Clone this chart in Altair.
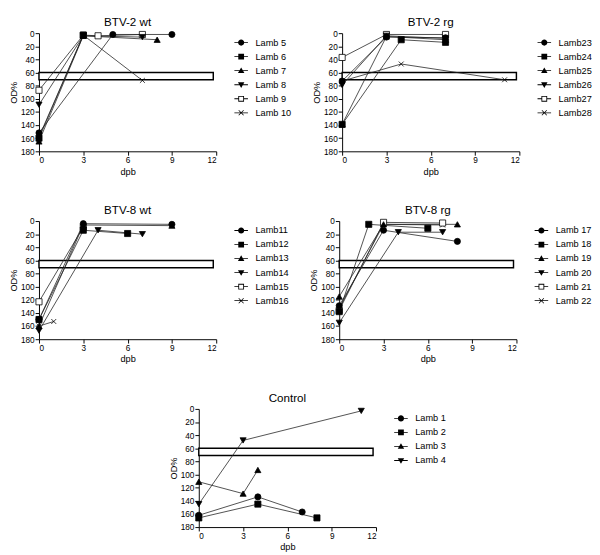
import altair as alt
import pandas as pd

FONT = "Liberation Sans"

X_TICKS = [0, 3, 6, 9, 12]
Y_TICKS = [0, 20, 40, 60, 80, 100, 120, 140, 160, 180]
BOX_X = [0, 11.8]
BOX_Y = [60, 71]

# BTV-2 wt
wt2_lambs = ["Lamb 5", "Lamb 6", "Lamb 7", "Lamb 8", "Lamb 9", "Lamb 10"]
wt2_days = [[0, 5, 9], [0, 3], [0, 3, 8], [0, 3, 7], [0, 3, 4, 7], [0, 3, 7]]
wt2_od = [[152, 2, 2], [160, 3], [165, 4, 10], [109, 4, 6], [87, 3, 4, 2], [158, 3, 72]]

# BTV-2 rg
rg2_lambs = ["Lamb23", "Lamb24", "Lamb25", "Lamb26", "Lamb27", "Lamb28"]
rg2_days = [[0, 3, 7], [0, 4, 7], [0, 3, 7], [0, 3, 7], [0, 3, 7], [0, 4, 11]]
rg2_od = [[73, 6, 7], [139, 10, 14], [139, 5, 10], [79, 4, 8], [37, 2, 2], [73, 47, 71]]

# BTV-8 wt
wt8_lambs = ["Lamb11", "Lamb12", "Lamb13", "Lamb14", "Lamb15", "Lamb16"]
wt8_days = [[0, 3, 9], [0, 3, 6], [0, 3, 9], [0, 4, 7], [0, 3], [0, 1]]
wt8_od = [[150, 4, 5], [150, 14, 19], [160, 6, 7], [167, 14, 20], [123, 9], [160, 153]]

# BTV-8 rg
rg8_lambs = ["Lamb 17", "Lamb 18", "Lamb 19", "Lamb 20", "Lamb 21", "Lamb 22"]
rg8_days = [[0, 3, 8], [0, 2, 6], [0, 3, 8], [0, 4, 7], [0, 3, 7], [0, 3, 7]]
rg8_od = [[129, 14, 31], [138, 5, 11], [115, 5, 5], [155, 17, 17], [136, 2, 3], [133, 5, 6]]

# Control
ctl_lambs = ["Lamb 1", "Lamb 2", "Lamb 3", "Lamb 4"]
ctl_days = [[0, 4, 7], [0, 4, 8], [0, 3, 4], [0, 3, 11]]
ctl_od = [[162, 134, 157], [166, 145, 166], [111, 129, 93], [145, 48, 3]]

X_PATH = "M-0.8,-0.8L0.8,0.8M-0.8,0.8L0.8,-0.8"
MARKERS = ["circle", "square", "triangle-up", "triangle-down", "square", X_PATH]
FILLS = ["black", "black", "black", "black", "white", "black"]

# legend symbols: fill-only paths (line stub + marker), all drawn clockwise
STUB = "M-2,-0.12H2V0.12H-2Z"
LEG_PATHS = [
    STUB + "M0.9,0A0.9,0.9,0,1,1,-0.9,0A0.9,0.9,0,1,1,0.9,0Z",
    STUB + "M-0.85,-0.85H0.85V0.85H-0.85Z",
    STUB + "M0,-0.95L0.95,0.7H-0.95Z",
    STUB + "M0,0.95L-0.95,-0.7H0.95Z",
    "M-2,-0.12H-0.85V0.12H-2ZM0.85,-0.12H2V0.12H0.85Z"
    "M-0.85,-0.85H0.85V0.85H-0.85ZM-0.6,-0.6V0.6H0.6V-0.6Z",
    STUB + "M-0.65,-0.8L0.8,0.65L0.65,0.8L-0.8,-0.65Z"
    "M0.65,-0.8L0.8,-0.65L-0.65,0.8L-0.8,0.65Z",
]

W, H = 183, 122


def panel(title, lambs, days, ods):
    rows = []
    for lamb, ds, os in zip(lambs, days, ods):
        for d, o in zip(ds, os):
            rows.append({"lamb": lamb, "day": d, "od": o})
    df = pd.DataFrame(rows)
    n = len(lambs)
    xs = alt.Scale(domain=[0, 12], nice=False, zero=False)
    ys = alt.Scale(domain=[0, 180], reverse=True, nice=False, zero=False)
    xa = alt.Axis(values=X_TICKS, title="dpb", grid=False)
    ya = alt.Axis(values=Y_TICKS, title="OD%", grid=False)
    xenc = alt.X("day:Q", scale=xs, axis=xa)
    yenc = alt.Y("od:Q", scale=ys, axis=ya)

    box_df = pd.DataFrame({"x0": [BOX_X[0]], "x1": [BOX_X[1]], "y0": [BOX_Y[0]], "y1": [BOX_Y[1]]})
    box = alt.Chart(box_df).mark_rect(fill="white", stroke="black", strokeWidth=1.5).encode(
        x=alt.X("x0:Q", scale=xs, axis=xa), x2="x1",
        y=alt.Y("y0:Q", scale=ys, axis=ya), y2="y1",
    )
    base = alt.Chart(df)
    lines = base.mark_line(color="#222222", strokeWidth=0.8).encode(
        x=xenc, y=yenc, detail="lamb:N", order="day:Q"
    )
    layers = [box, lines]
    for i in reversed(range(n)):
        layers.append(
            base.transform_filter(alt.datum.lamb == lambs[i]).mark_point(
                shape=MARKERS[i], filled=True, fill=FILLS[i], stroke="black",
                strokeWidth=0.8, opacity=1, size=40,
            ).encode(x=xenc, y=yenc)
        )
    leg = base.transform_filter("datum.day == 0").mark_point(
        filled=True, opacity=0
    ).encode(
        x=xenc, y=yenc,
        fill=alt.value("black"),
        shape=alt.Shape(
            "lamb:N",
            scale=alt.Scale(domain=lambs, range=LEG_PATHS[:n]),
            legend=alt.Legend(
                title=None, orient="none", legendX=W + 21, legendY=5,
                symbolSize=49, symbolOpacity=1, symbolFillColor="black",
                symbolStrokeWidth=0, labelFontSize=9.5, labelFont=FONT,
                labelColor="black", labelOffset=10, rowPadding=3.5, padding=0,
            ),
        ),
    )
    layers.append(leg)
    return alt.layer(*layers).properties(
        width=W, height=H,
        title=alt.TitleParams(title, fontSize=12, font=FONT, fontWeight="normal",
                              anchor="middle", offset=0, color="black"),
    )


p1 = panel("BTV-2 wt", wt2_lambs, wt2_days, wt2_od)
p2 = panel("BTV-2 rg", rg2_lambs, rg2_days, rg2_od)
p3 = panel("BTV-8 wt", wt8_lambs, wt8_days, wt8_od)
p4 = panel("BTV-8 rg", rg8_lambs, rg8_days, rg8_od)
p5 = panel("Control", ctl_lambs, ctl_days, ctl_od)

spacer = alt.Chart(pd.DataFrame({"a": [0]})).mark_point(opacity=0).encode(
    x=alt.value(0), y=alt.value(0)
).properties(width=133, height=1)

res = dict(shape="independent")
row1 = alt.hconcat(p1, p2, spacing=20).resolve_scale(**res).resolve_legend(**res)
row2 = alt.hconcat(p3, p4, spacing=20).resolve_scale(**res).resolve_legend(**res)
row3 = alt.hconcat(spacer, p5, spacing=0).resolve_scale(**res).resolve_legend(**res)

chart = alt.vconcat(
    row1, row2, row3, spacing=30,
    padding={"left": 0, "top": 0, "right": 0, "bottom": 0},
).resolve_scale(**res).resolve_legend(**res).configure_view(stroke=None).configure_axis(
    labelFont=FONT, titleFont=FONT, labelFontSize=8.5, titleFontSize=9.5,
    titleFontWeight="normal", labelColor="black", titleColor="black",
    domainColor="black", tickColor="black", tickSize=4, labelPadding=1,
    titlePadding=2,
)

chart.save("out.html", embed_options={"renderer": "svg", "actions": False})
